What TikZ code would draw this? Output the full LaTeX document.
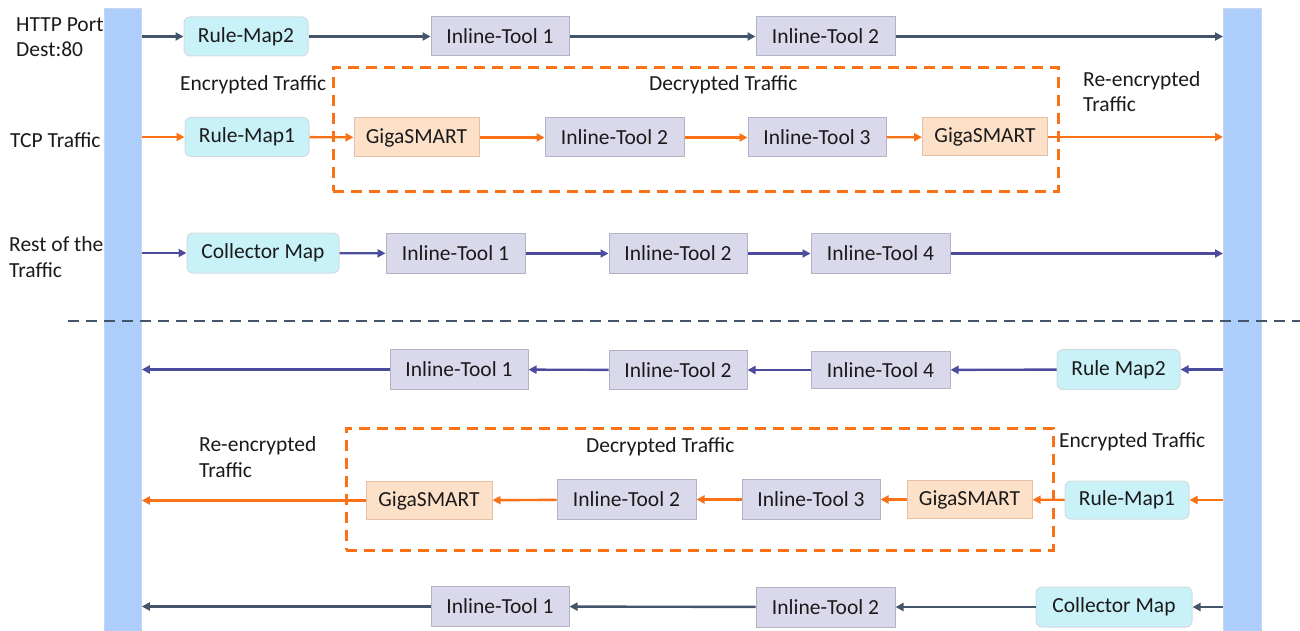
\documentclass[tikz,border=0pt]{standalone}
\usepackage{fontspec}
\setmainfont{Carlito}
\usetikzlibrary{arrows.meta}
\definecolor{slate}{HTML}{44546A}
\definecolor{indig}{HTML}{4C4C9E}
\definecolor{orng}{HTML}{FA7014}
\definecolor{barfill}{HTML}{ADCDFB}
\definecolor{barline}{HTML}{C6D6EC}
\definecolor{cyanfill}{HTML}{C8F2F8}
\definecolor{cyanline}{HTML}{D2DCE0}
\definecolor{lavfill}{HTML}{D9D9EB}
\definecolor{lavline}{HTML}{B3B3C6}
\definecolor{peachfill}{HTML}{FDE0C8}
\definecolor{peachline}{HTML}{E6BFA5}
\definecolor{txt}{HTML}{1A1A1A}
\begin{document}
\begin{tikzpicture}[x=1pt,y=-1pt,
  every node/.style={font=\fontsize{21.5}{25.5}\selectfont, text=txt},
  bar/.style={draw=barline, fill=barfill, line width=0.8pt, inner sep=0pt, anchor=north west},
  box/.style={line width=1pt, inner sep=0pt, minimum height=39pt},
  rmap/.style={box, fill=cyanfill, draw=cyanline, rounded corners=6pt},
  tool/.style={box, fill=lavfill, draw=lavline},
  giga/.style={box, fill=peachfill, draw=peachline},
  lbl/.style={anchor=base west, inner sep=0pt, align=left},
  flow/.style={line width=2.4pt, -{Triangle[length=8pt,width=8pt]}},
  fslate/.style={flow, draw=slate},
  findig/.style={flow, draw=indig},
  forng/.style={flow, draw=orng},
  dashbox/.style={draw=orng, line width=2.8pt, dash pattern=on 11pt off 7pt, inner sep=0pt, anchor=north west},
  sepline/.style={draw=slate, line width=2.8pt, dash pattern=on 11pt off 7pt}]
\useasboundingbox (0,0) rectangle (1300,631);

% bars
\node[bar, minimum width=37pt, minimum height=623pt] (L) at (104,8) {};
\node[bar, minimum width=38pt, minimum height=623pt] (R) at (1223,8) {};

% dashed frames
\node[dashbox, minimum width=725pt, minimum height=124pt] (D1) at (332,66) {};
\node[dashbox, minimum width=707pt, minimum height=122pt] (D2) at (345,427) {};

% separator
\coordinate (s1) at (68,321);
\coordinate (s2) at (1300,321);
\draw[sepline] (s1) -- (s2);

% labels (base = baseline of the last line)
\node[lbl] (t1) at (16,57) {HTTP Port\\Dest:80};
\node[lbl] (t2) at (10,148) {TCP Traffic};
\node[lbl] (t3) at (9,277) {Rest of the\\Traffic};
\node[lbl] (t4) at (180,91) {Encrypted Traffic};
\node[lbl] (t5) at (649,91) {Decrypted Traffic};
\node[lbl] (t6) at (1083,112) {Re-encrypted\\Traffic};
\node[lbl] (t7) at (199,477) {Re-encrypted\\Traffic};
\node[lbl] (t8) at (586,452) {Decrypted Traffic};
\node[lbl] (t9) at (1059,447) {Encrypted Traffic};

% row 1
\node[rmap, minimum width=124pt] (a1) at (246,36.5) {Rule-Map2};
\node[tool, minimum width=138pt] (a2) at (500,36.5) {Inline-Tool 1};
\node[tool, minimum width=139pt] (a3) at (825.5,36.5) {Inline-Tool 2};
\draw[fslate] (L.east |- a1.west) -- (a1.west);
\draw[fslate] (a1) -- (a2);
\draw[fslate] (a2) -- (a3);
\draw[fslate] (a3.east) -- (R.west |- a3.east);

% row 2
\node[rmap, minimum width=124pt] (b1) at (247,137) {Rule-Map1};
\node[giga, minimum width=125pt] (b2) at (416.5,137.5) {GigaSMART};
\node[tool, minimum width=139pt] (b3) at (614.5,137.5) {Inline-Tool 2};
\node[tool, minimum width=138pt] (b4) at (817,137.5) {Inline-Tool 3};
\node[giga, minimum width=125pt, minimum height=38pt] (b5) at (985,137) {GigaSMART};
\draw[forng] (L.east |- b1.west) -- (b1.west);
\draw[forng] (b1) -- (b2);
\draw[forng] (b2) -- (b3);
\draw[forng] (b3) -- (b4);
\draw[forng] (b4) -- (b5);
\draw[forng] (b5.east) -- (R.west |- b5.east);

% row 3
\node[rmap, minimum width=152pt, minimum height=40pt] (c1) at (263,253) {Collector Map};
\node[tool, minimum width=139pt, minimum height=40pt] (c2) at (455.5,253.5) {Inline-Tool 1};
\node[tool, minimum width=138pt, minimum height=40pt] (c3) at (678,253.5) {Inline-Tool 2};
\node[tool, minimum width=139pt, minimum height=40pt] (c4) at (880.5,253.5) {Inline-Tool 4};
\draw[findig] (L.east |- c1.west) -- (c1.west);
\draw[findig] (c1) -- (c2);
\draw[findig] (c2) -- (c3);
\draw[findig] (c3) -- (c4);
\draw[findig] (c4.east) -- (R.west |- c4.east);

% row 4
\node[rmap, minimum width=123pt, minimum height=40pt] (d1) at (1118.5,369.5) {Rule Map2};
\node[tool, minimum width=139pt, minimum height=37pt] (d2) at (880.5,370) {Inline-Tool 4};
\node[tool, minimum width=138pt] (d3) at (678,370) {Inline-Tool 2};
\node[tool, minimum width=138pt, minimum height=40pt] (d4) at (459,369.5) {Inline-Tool 1};
\draw[findig] (R.west |- d1.east) -- (d1.east);
\draw[findig] (d1) -- (d2);
\draw[findig] (d2) -- (d3);
\draw[findig] (d3) -- (d4);
\draw[findig] (d4.west) -- (L.east |- d4.west);

% row 5
\node[rmap, minimum width=124pt, minimum height=38pt] (e1) at (1127,500) {Rule-Map1};
\node[giga, minimum width=125pt, minimum height=38pt] (e2) at (969.5,499.5) {GigaSMART};
\node[tool, minimum width=138pt, minimum height=40pt] (e3) at (811,499.5) {Inline-Tool 3};
\node[tool, minimum width=139pt, minimum height=40pt] (e4) at (626.5,499.5) {Inline-Tool 2};
\node[giga, minimum width=126pt, minimum height=38pt] (e5) at (429,500.5) {GigaSMART};
\draw[forng] (R.west |- e1.east) -- (e1.east);
\draw[forng] (e1) -- (e2);
\draw[forng] (e2) -- (e3);
\draw[forng] (e3) -- (e4);
\draw[forng] (e4) -- (e5);
\draw[forng] (e5.west) -- (L.east |- e5.west);

% row 6
\node[rmap, minimum width=156pt, minimum height=40pt] (f1) at (1114,607) {Collector Map};
\node[tool, minimum width=139pt, minimum height=40pt] (f2) at (825.5,607) {Inline-Tool 2};
\node[tool, minimum width=138pt, minimum height=40pt] (f3) at (500,606.5) {Inline-Tool 1};
\draw[fslate] (R.west |- f1.east) -- (f1.east);
\draw[fslate] (f1) -- (f2);
\draw[fslate] (f2) -- (f3);
\draw[fslate] (f3.west) -- (L.east |- f3.west);
\end{tikzpicture}
\end{document}
